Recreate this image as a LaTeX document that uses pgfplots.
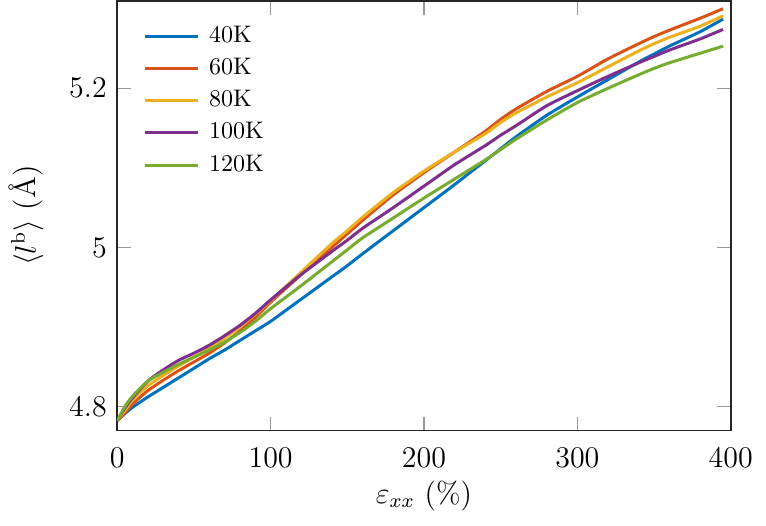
\documentclass[border=0pt,12pt]{standalone}
\usepackage{pgfplots}
\pgfplotsset{compat=1.18}
\definecolor{c1}{rgb}{0,0.447,0.741}
\definecolor{c2}{rgb}{0.850,0.325,0.098}
\definecolor{c3}{rgb}{0.929,0.694,0.125}
\definecolor{c4}{rgb}{0.494,0.184,0.556}
\definecolor{c5}{rgb}{0.466,0.674,0.188}
\begin{document}
\begin{tikzpicture}
\begin{axis}[
  scale only axis,
  width=245.4pt, height=171.8pt,
  xmin=0, xmax=400, ymin=4.7698, ymax=5.3097,
  xtick={0,100,200,300,400},
  ytick={4.8,5,5.2},
  tick align=inside,
  major tick length=5.5pt,
  tick style={black!40, line width=0.5pt},
  xticklabel style={yshift=-3pt},
  axis line style={black!85, line width=0.7pt},
  every axis x label/.style={at={(axis description cs:0.5,0)},anchor=center,yshift=-26.2pt},
  every axis y label/.style={at={(axis description cs:0,0.5)},anchor=center,rotate=90,yshift=36.4pt},
  xlabel={$\varepsilon_{xx}$ (\%)},
  ylabel={$\langle l^{\mathrm{b}}\rangle$ (\AA)},
  legend style={draw=none, fill=none, at={(axis description cs:0.03,0.966)}, anchor=north west,
    font=\fontsize{9.6}{11}\selectfont, row sep=0.5pt},
  legend cell align=left,
  legend image code/.code={\draw[#1] (0pt,0pt) -- (21pt,0pt); \path (23pt,0pt);},
  every axis plot/.append style={line width=1.2pt, smooth, tension=0.4},
]
\addplot[c1] coordinates {
(0,4.782) (5,4.791) (10,4.799) (20,4.812) (30,4.824) (40,4.836) (50,4.848) (60,4.860) (70,4.871) (80,4.883) (90,4.895) (100,4.907) (120,4.935) (140,4.963) (150,4.977) (160,4.992) (180,5.021) (200,5.050) (220,5.079) (240,5.109) (250,5.124) (260,5.139) (280,5.166) (300,5.189) (320,5.211) (340,5.233) (350,5.243) (360,5.253) (380,5.271) (395,5.287)};
\addlegendentry{40K}
\addplot[c2] coordinates {
(0,4.782) (5,4.792) (10,4.803) (20,4.820) (30,4.833) (40,4.845) (50,4.856) (60,4.867) (70,4.880) (80,4.895) (90,4.912) (100,4.931) (120,4.966) (140,5.000) (150,5.017) (160,5.034) (180,5.066) (200,5.094) (220,5.120) (240,5.146) (250,5.161) (260,5.174) (280,5.196) (300,5.215) (320,5.237) (340,5.256) (350,5.265) (360,5.273) (380,5.288) (395,5.300)};
\addlegendentry{60K}
\addplot[c3] coordinates {
(0,4.782) (5,4.795) (10,4.808) (20,4.826) (30,4.839) (40,4.851) (50,4.862) (60,4.873) (70,4.886) (80,4.900) (90,4.916) (100,4.933) (120,4.969) (140,5.005) (150,5.021) (160,5.038) (180,5.069) (200,5.096) (220,5.120) (240,5.143) (250,5.157) (260,5.169) (280,5.189) (300,5.207) (320,5.227) (340,5.247) (350,5.256) (360,5.264) (380,5.278) (395,5.291)};
\addlegendentry{80K}
\addplot[c4] coordinates {
(0,4.782) (5,4.798) (10,4.811) (20,4.832) (30,4.846) (40,4.858) (50,4.867) (60,4.877) (70,4.889) (80,4.902) (90,4.917) (100,4.934) (120,4.966) (140,4.995) (150,5.009) (160,5.024) (180,5.050) (200,5.077) (220,5.104) (240,5.128) (250,5.141) (260,5.153) (280,5.178) (300,5.197) (320,5.215) (340,5.232) (350,5.240) (360,5.248) (380,5.262) (395,5.274)};
\addlegendentry{100K}
\addplot[c5] coordinates {
(0,4.782) (5,4.800) (10,4.813) (20,4.832) (30,4.843) (40,4.853) (50,4.862) (60,4.871) (70,4.881) (80,4.893) (90,4.907) (100,4.923) (120,4.952) (140,4.982) (150,4.997) (160,5.012) (180,5.037) (200,5.062) (220,5.086) (240,5.110) (250,5.123) (260,5.136) (280,5.160) (300,5.182) (320,5.200) (340,5.217) (350,5.225) (360,5.232) (380,5.244) (395,5.253)};
\addlegendentry{120K}
\end{axis}
\pgfresetboundingbox
\path[use as bounding box] (-46.9pt,-37.8pt) rectangle (259.5pt,172.2pt);
\end{tikzpicture}
\end{document}
